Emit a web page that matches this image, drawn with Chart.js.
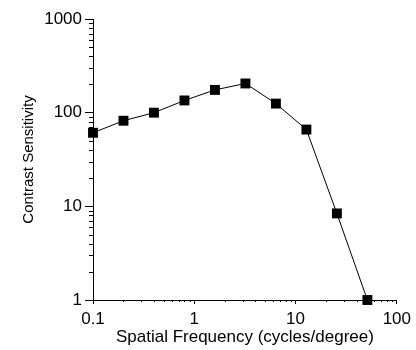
<!DOCTYPE html>
<html>
<head>
<meta charset="utf-8">
<script src="https://cdn.jsdelivr.net/npm/chart.js@4"></script>
<style>
  html, body { margin: 0; padding: 0; background: #fff; }
  #wrap { width: 416px; height: 350px; }
</style>
</head>
<body>
<div id="wrap"><canvas id="c" width="416" height="350"></canvas></div>
<script>
const frequencies = [0.1, 0.2, 0.4, 0.8, 1.6, 3.2, 6.4, 12.8, 25.6, 51.2];
const sensitivity = [61, 82, 100, 135, 175, 205, 125, 66, 8.4, 1];
const xTickValues = [0.1, 1, 10, 100];
const yTickValues = [1, 10, 100, 1000];
const xTitle = 'Spatial Frequency (cycles/degree)';
const yTitle = 'Contrast Sensitivity';

function minorValues(majors) {
  const out = [];
  for (let i = 0; i < majors.length - 1; i++) {
    for (let k = 2; k <= 9; k++) out.push(majors[i] * k);
  }
  return out;
}

const minorTicks = {
  id: 'minorTicks',
  afterDraw(chart) {
    const ctx = chart.ctx;
    const xs = chart.scales.x, ys = chart.scales.y;
    ctx.save();
    ctx.strokeStyle = '#000';
    ctx.lineWidth = 1;
    ctx.beginPath();
    minorValues(xTickValues).forEach(v => {
      const px = Math.round(xs.getPixelForValue(v)) + 0.5;
      ctx.moveTo(px, ys.bottom);
      ctx.lineTo(px, ys.bottom + 2);
    });
    minorValues(yTickValues).forEach(v => {
      const py = Math.round(ys.getPixelForValue(v)) + 0.5;
      ctx.moveTo(xs.left, py);
      ctx.lineTo(xs.left - 4, py);
    });
    ctx.stroke();
    ctx.restore();
  }
};

const fam = '"Liberation Sans", Arial, sans-serif';
const tickFont = { family: fam, size: 17 };
const xTitleFont = { family: fam, size: 17 };
const yTitleFont = { family: fam, size: 15 };

new Chart(document.getElementById('c'), {
  type: 'line',
  data: {
    datasets: [{
      data: frequencies.map((f, i) => ({ x: f, y: sensitivity[i] })),
      borderColor: '#000',
      borderWidth: 1,
      backgroundColor: '#000',
      pointStyle: 'rect',
      pointRadius: 7,
      pointBorderWidth: 0,
      pointBackgroundColor: '#000',
      clip: false,
      tension: 0
    }]
  },
  options: {
    responsive: false,
    animation: false,
    layout: { padding: { left: 0, right: 17, top: 19, bottom: 0 } },
    plugins: { legend: { display: false }, tooltip: { enabled: false } },
    scales: {
      x: {
        type: 'logarithmic',
        min: 0.1, max: 100,
        afterBuildTicks: s => { s.ticks = xTickValues.map(v => ({ value: v })); },
        afterFit: s => { s.height = 50; },
        ticks: {
          color: '#000', font: tickFont, padding: 5, maxRotation: 0, autoSkip: false,
          callback: v => String(v)
        },
        grid: { drawOnChartArea: false, drawTicks: true, tickLength: 4, color: '#000' },
        border: { display: true, color: '#000', width: 1 },
        title: { display: true, text: xTitle, color: '#000', font: xTitleFont, padding: { top: 0, bottom: 2 } }
      },
      y: {
        type: 'logarithmic',
        min: 1, max: 1000,
        afterBuildTicks: s => { s.ticks = yTickValues.map(v => ({ value: v })); },
        afterFit: s => { s.width = 93; },
        ticks: {
          color: '#000', font: tickFont, padding: 3, autoSkip: false,
          callback: v => String(v)
        },
        grid: { drawOnChartArea: false, drawTicks: true, tickLength: 8, color: '#000' },
        border: { display: true, color: '#000', width: 1 },
        title: { display: true, text: yTitle, color: '#000', font: yTitleFont, padding: { top: 20, bottom: 0 } }
      }
    }
  },
  plugins: [minorTicks]
});
</script>
</body>
</html>
